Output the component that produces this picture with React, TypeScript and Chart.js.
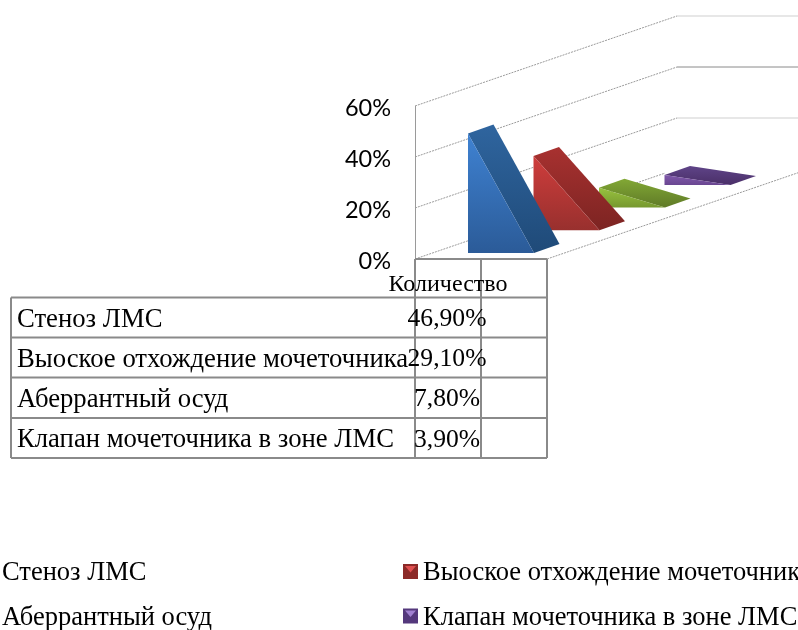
import React, { useEffect, useRef } from "react";
import { Chart, registerables } from "chart.js";

Chart.register(...registerables);

const categories = ["Количество", ""];
const seriesLabels = [
  "Стеноз ЛМС",
  "Выоское отхождение мочеточника",
  "Аберрантный осуд",
  "Клапан мочеточника в зоне ЛМС",
];
const seriesValues = [46.9, 29.1, 7.8, 3.9];
const yTicks = [0, 20, 40, 60];

const frontTop = ["#3f82d2", "#cf3d3c", "#98c23f", "#8058ab"];
const frontBottom = ["#2b5b98", "#98302e", "#76982f", "#6a4791"];
const sideTop = ["#2f659f", "#a83130", "#82a835", "#5f4488"];
const sideBottom = ["#1f4a78", "#7c2422", "#5f7a27", "#4a2f68"];
const markerLight = ["#4f81bd", "#e05050", "#9bbb59", "#a080d0"];
const markerDark = ["#2c5c94", "#8c2a28", "#6f8a30", "#54387c"];

const SERIF = '"Liberation Serif", serif';
const GRID_DX = 262;
const GRID_DY = -90;
const STEP_DX = 65.5;
const STEP_DY = -22.7;
const BAR_DX = 25.5;
const BAR_DY = -9;
const FIRST_DX = 53;
const FIRST_DY = -6;

const wedge = {
  id: "wedge",
  beforeDatasetsDraw(chart: any) {
    const { ctx } = chart;
    const y = chart.scales.y;
    const x = chart.scales.x;
    const left = chart.chartArea.left;
    const right = x.getPixelForValue(1) + (x.getPixelForValue(1) - x.getPixelForValue(0)) / 2;
    ctx.save();
    yTicks.forEach((t) => {
      const py = y.getPixelForValue(t);
      const frac = t === 0 ? 250 / GRID_DX : 1;
      ctx.strokeStyle = "#9a9a9a";
      ctx.setLineDash([2, 1]);
      ctx.lineWidth = 1;
      ctx.beginPath();
      ctx.moveTo(left, py);
      ctx.lineTo(left + GRID_DX * frac, py + GRID_DY * frac);
      ctx.stroke();
      if (t > 0) {
        ctx.setLineDash([]);
        ctx.lineWidth = 1;
        ctx.strokeStyle = t === 40 ? "#8a8a8a" : "#cfcfcf";
        ctx.beginPath();
        ctx.moveTo(left + GRID_DX, py + GRID_DY);
        ctx.lineTo(chart.width, py + GRID_DY);
        ctx.stroke();
      }
    });
    const base = y.getPixelForValue(0);
    ctx.strokeStyle = "#9a9a9a";
    ctx.setLineDash([2, 1]);
    ctx.beginPath();
    ctx.moveTo(right, base);
    ctx.lineTo(right + GRID_DX, base + GRID_DY);
    ctx.stroke();
    ctx.restore();
  },
  beforeDatasetDraw(chart: any, args: any) {
    const { ctx } = chart;
    const i = args.index;
    const el = args.meta.data[0];
    const w = el.width;
    const x0 = el.x - w / 2 + FIRST_DX + STEP_DX * i;
    const x1 = x0 + w;
    const shift = FIRST_DY + STEP_DY * i;
    const top = el.y + shift;
    const bot = el.base + shift;
    ctx.save();
    const gs = ctx.createLinearGradient(0, top + BAR_DY, 0, bot);
    gs.addColorStop(0, sideTop[i]);
    gs.addColorStop(1, sideBottom[i]);
    ctx.fillStyle = gs;
    ctx.beginPath();
    ctx.moveTo(x0, top);
    ctx.lineTo(x0 + BAR_DX, top + BAR_DY);
    ctx.lineTo(x1 + BAR_DX, bot + BAR_DY);
    ctx.lineTo(x1, bot);
    ctx.closePath();
    ctx.fill();
    const gf = ctx.createLinearGradient(0, top, 0, bot);
    gf.addColorStop(0, frontTop[i]);
    gf.addColorStop(1, frontBottom[i]);
    ctx.fillStyle = gf;
    ctx.beginPath();
    ctx.moveTo(x0, top);
    ctx.lineTo(x1, bot);
    ctx.lineTo(x0, bot);
    ctx.closePath();
    ctx.fill();
    ctx.restore();
    return false;
  },
  afterDraw(chart: any) {
    const { ctx } = chart;
    const x = chart.scales.x;
    const y = chart.scales.y;
    const colW = x.getPixelForValue(1) - x.getPixelForValue(0);
    const c0 = x.getPixelForValue(0) - colW / 2;
    const c1 = c0 + colW;
    const c2 = c1 + colW;
    const top = y.getPixelForValue(0);
    const rows = [297.5, 337.5, 377.5, 418, 458];
    const tableLeft = 11;
    ctx.save();
    ctx.strokeStyle = "#8a8a8a";
    ctx.lineWidth = 2;
    [c0, c1, c2].forEach((vx) => {
      ctx.beginPath();
      ctx.moveTo(vx, top);
      ctx.lineTo(vx, rows[4]);
      ctx.stroke();
    });
    ctx.beginPath();
    ctx.moveTo(c0, top);
    ctx.lineTo(c2, top);
    ctx.stroke();
    rows.forEach((ry) => {
      ctx.beginPath();
      ctx.moveTo(tableLeft, ry);
      ctx.lineTo(c2, ry);
      ctx.stroke();
    });
    ctx.beginPath();
    ctx.moveTo(tableLeft, rows[0]);
    ctx.lineTo(tableLeft, rows[4]);
    ctx.stroke();

    ctx.fillStyle = "#000";
    ctx.textBaseline = "middle";
    ctx.textAlign = "center";
    ctx.font = `24px ${SERIF}`;
    ctx.fillText(categories[0], x.getPixelForValue(0), 285);
    seriesLabels.forEach((label, i) => {
      ctx.textAlign = "left";
      ctx.font = `26.7px ${SERIF}`;
      ctx.fillText(label, 17, rows[i] + 22);
      ctx.textAlign = "center";
      ctx.font = `25.6px ${SERIF}`;
      ctx.fillText(`${seriesValues[i].toFixed(2).replace(".", ",")}%`, x.getPixelForValue(0) - 1, rows[i] + 22);
    });

    const legendX = [2, 423];
    const legendY = [573.5, 618];
    ctx.font = `26.5px ${SERIF}`;
    seriesLabels.forEach((label, i) => {
      const lx = legendX[i % 2];
      const ly = legendY[Math.floor(i / 2)];
      ctx.textAlign = "left";
      ctx.fillStyle = "#000";
      ctx.fillText(label, lx, ly);
      const mx = lx - 20;
      const my = ly - 9.5;
      const s = 15;
      ctx.fillStyle = markerDark[i];
      ctx.fillRect(mx, my, s, s);
      ctx.fillStyle = markerLight[i];
      ctx.beginPath();
      ctx.moveTo(mx + 2, my + 2);
      ctx.lineTo(mx + s - 2, my + 2);
      ctx.lineTo(mx + s / 2, my + s / 2 + 1);
      ctx.closePath();
      ctx.fill();
    });
    ctx.restore();
  },
};

export default function App() {
  const ref = useRef<HTMLCanvasElement | null>(null);
  useEffect(() => {
    const chart = new Chart(ref.current as HTMLCanvasElement, {
      type: "bar",
      data: {
        labels: categories,
        datasets: seriesLabels.map((label, i) => ({
          label,
          data: [seriesValues[i], null],
          backgroundColor: frontTop[i],
          barPercentage: 1,
          categoryPercentage: 1,
          grouped: false,
        })),
      },
      options: {
        animation: false,
        responsive: false,
        layout: { padding: { left: 0, right: 251, top: 106, bottom: 371 } },
        plugins: { legend: { display: false }, tooltip: { enabled: false }, title: { display: false } },
        scales: {
          x: { display: false, offset: true },
          y: {
            min: 0,
            max: 60,
            afterFit: (s: any) => {
              s.width = 415;
            },
            grid: { display: false, drawTicks: false },
            border: { display: true, color: "#9a9a9a" },
            afterBuildTicks: (s: any) => {
              s.ticks = yTicks.map((value) => ({ value }));
            },
            ticks: {
              padding: 24,
              labelOffset: 2,
              color: "#000",
              font: { family: "Lato", size: 23.5 },
              callback: (v: any) => `${v}%`,
            },
          },
        },
      } as any,
      plugins: [wedge],
    });
    return () => chart.destroy();
  }, []);
  return (
    <canvas
      ref={ref}
      width={798}
      height={630}
      style={{ position: "absolute", left: 0, top: 0, width: 798, height: 630, display: "block" }}
    />
  );
}
